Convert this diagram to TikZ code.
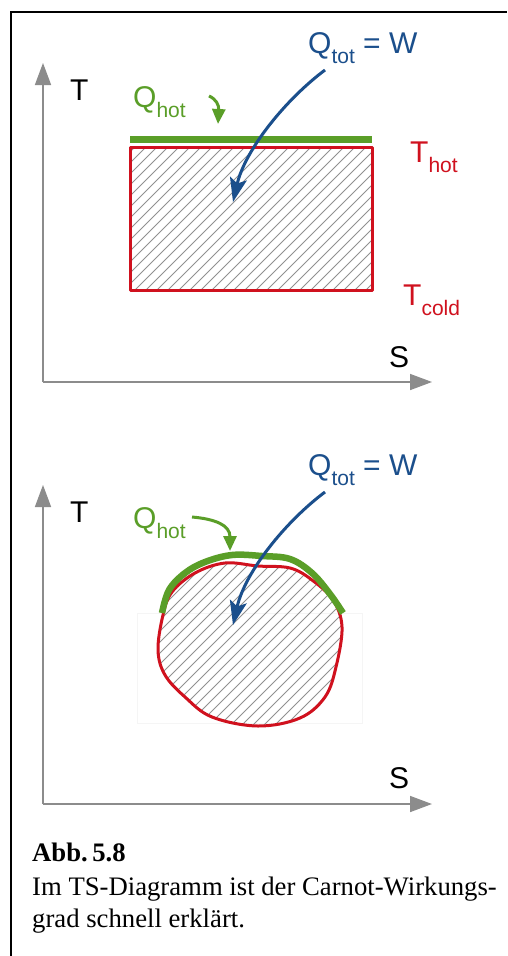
\documentclass[tikz,border=0pt]{standalone}
\usepackage{fontspec}
\setmainfont{Liberation Serif}
\newfontfamily\arialf{Liberation Sans}
\usetikzlibrary{arrows.meta}
\definecolor{cgreen}{HTML}{5A9E28}
\definecolor{cred}{HTML}{D0111E}
\definecolor{cblue}{HTML}{1B4F8C}
\definecolor{caxis}{HTML}{8C8C8C}
\definecolor{chatch}{HTML}{909090}
\newcommand\mysub[1]{\raisebox{-10pt}{\fontsize{21}{21}\selectfont #1}}
\tikzset{
  lbl/.style={anchor=base west, inner sep=0pt, font=\arialf\fontsize{30}{30}\selectfont},
  axis/.style={caxis, line width=1.6pt, -{Triangle[length=22pt,width=16pt]}},
  bluearr/.style={cblue, line width=3pt, -{Stealth[length=24pt,width=17pt,inset=5pt]}},
  greenarr/.style={cgreen, line width=3pt, -{Triangle[length=15pt,width=13pt]}},
  hatchline/.style={chatch, line width=0.8pt},
  capt/.style={anchor=base west, inner sep=0pt, font=\fontsize{26.7}{32}\selectfont},
}
\begin{document}
\begin{tikzpicture}[x=1pt,y=-1pt]
\useasboundingbox (0,0) rectangle (507,956);
\fill[white] (0,0) rectangle (507,956);
% frame
\draw[black, line width=2pt] (11,956) -- (11,12) -- (507,12);

% ---------- top panel ----------
\coordinate (o1) at (43,382);
\coordinate (yt1) at (43,63);
\coordinate (xt1) at (432,382);
\draw[axis] (o1) -- (yt1);
\draw[axis] (o1) -- (xt1);
\node[lbl] (T1) at (70,100) {T};
\node[lbl] (S1) at (389,367) {S};
\node[lbl, text=cgreen] (Qh1) at (133,107) {Q\mysub{hot}};
\node[lbl, text=cred] (Th1) at (410,162) {T\mysub{hot}};
\node[lbl, text=cred] (Tc1) at (403,305) {T\mysub{cold}};
\node[lbl, text=cblue] (Qt1) at (308,53) {Q\mysub{tot} = W};
% hatched rectangle
\begin{scope}
  \clip (130,147) rectangle (372,290);
  \foreach \i in {0,...,40} {
    \draw[hatchline] (130+\i*11-160,290) -- (130+\i*11,130);
  }
\end{scope}
\draw[cred, line width=3pt, line join=round] (130,147) rectangle (372,290);
\draw[cgreen, line width=7pt] (130,139) -- (372,139);
% arrows
\coordinate (bs1) at (325,70);
\coordinate (be1) at (233,202);
\draw[bluearr] (bs1) .. controls (285,100) and (245,150) .. (be1);
\coordinate (gs1) at (209,96);
\coordinate (ge1) at (218,124);
\draw[greenarr] (gs1) .. controls (216,99) and (219,105) .. (ge1);

% ---------- bottom panel ----------
\begin{scope}[yshift=-422pt]
\coordinate (o2) at (43,382);
\coordinate (yt2) at (43,63);
\coordinate (xt2) at (432,382);
\draw[axis] (o2) -- (yt2);
\draw[axis] (o2) -- (xt2);
\node[lbl] (T2) at (70,100) {T};
\node[lbl] (S2) at (389,366) {S};
\node[lbl, text=cgreen] (Qh2) at (133,106) {Q\mysub{hot}};
\node[lbl, text=cblue] (Qt2) at (308,53) {Q\mysub{tot} = W};
\end{scope}
% faint box
\draw[gray!8, line width=0.6pt] (137,613) rectangle (362,723);
% blob
\def\blob{plot[smooth cycle, tension=0.6] coordinates {(163,615)(158,650)(165,675)(185,697)(212,717)(258,726)(300,718)(325,697)(336,667)(342,627)(333,600)(312,580)(290,568)(258,566)(225,563)(195,573)(172,592)}}
\begin{scope}
  \clip \blob;
  \foreach \i in {0,...,40} {
    \draw[hatchline] (130+\i*11-200,740) -- (130+\i*11,540);
  }
\end{scope}
\draw[cred, line width=3pt] \blob;
\draw[cgreen, line width=6.5pt] plot[smooth, tension=0.6] coordinates {(162,613)(169,590)(185,573)(205,562)(232,555)(262,556)(290,559)(312,573)(330,594)(343,613)};
\coordinate (bs2) at (325,492);
\coordinate (be2) at (233,625);
\draw[bluearr] (bs2) .. controls (285,522) and (245,572) .. (be2);
\coordinate (gs2) at (192,517);
\coordinate (ge2) at (230,551);
\draw[greenarr] (gs2) .. controls (215,519) and (230,525) .. (ge2);

% caption
\node[capt] (c1) at (32,861) {\textbf{Abb.\,5.8}};
\node[capt] (c2) at (32,895) {Im TS-Diagramm ist der Carnot-Wirkungs-};
\node[capt] (c3) at (32,927) {grad schnell erklärt.};
\end{tikzpicture}
\end{document}
